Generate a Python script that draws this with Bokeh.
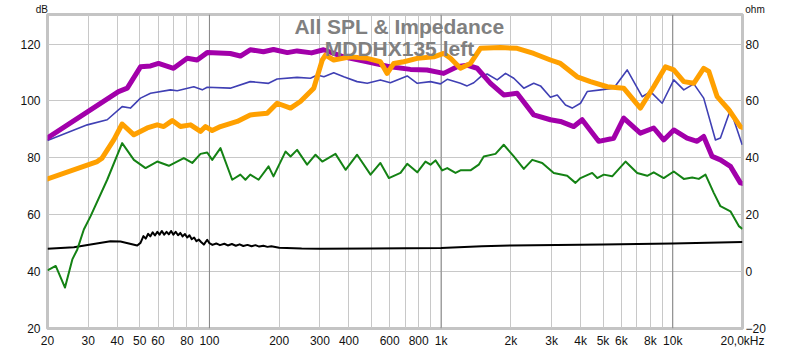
from bokeh.plotting import figure
from bokeh.models import FixedTicker, LinearAxis, Range1d, Label, Span, LogAxis
from bokeh.embed import file_html
from bokeh.resources import INLINE

# ---------------- data ----------------
purple_freq = [20, 40.5, 44.2, 50.4, 55.7, 60.3, 70, 80.2, 88.5, 97.8,
               123, 136, 150, 171, 189, 217, 239, 276, 311, 379,
               480, 604, 737, 870, 1026, 1172, 1295, 1431, 1634, 1864,
               2128, 2511, 2964, 3274, 3738, 4064, 4788, 5560, 6140, 7245,
               8275, 9140, 10100, 11530, 12736, 13600, 14790, 16060, 17740, 19580,
               20000]
purple_db = [87.0, 103.3, 104.5, 112.0, 112.3, 113.2, 111.5, 115.0, 114.4, 117.0,
             116.7, 115.8, 118.0, 117.3, 118.1, 117.0, 117.6, 116.9, 118.0, 115.5,
             113.8, 112.0, 111.1, 110.9, 109.7, 112.0, 112.6, 111.5, 106.2, 102.1,
             102.7, 95.1, 93.4, 92.8, 91.0, 93.4, 85.8, 86.9, 94.0, 88.7,
             90.5, 86.3, 89.8, 86.9, 85.8, 87.5, 80.5, 79.3, 77.0, 71.2,
             71.0]

blue_freq = [20, 29.7, 36.2, 42.0, 45.6, 50.4, 55.7, 67.9, 72.6, 85.6,
             93.1, 97.8, 123, 150, 180, 196, 239, 273, 292, 312,
             344, 380, 434, 480, 547, 604, 714, 789, 900, 994,
             1063, 1212, 1295, 1384, 1479, 1581, 1746, 1897, 2060, 2275,
             2511, 2686, 2964, 3172, 3444, 3680, 3997, 4273, 4876, 5560,
             6356, 7378, 8015, 8998, 10100, 11158, 12326, 13600, 15288, 16060,
             17740, 19936]
blue_db = [86.1, 91.6, 93.4, 98.0, 97.5, 101.0, 102.7, 103.9, 103.6, 105.0,
           103.9, 104.8, 104.5, 106.8, 106.2, 107.7, 108.3, 108.0, 109.1, 108.5,
           109.9, 108.5, 106.8, 106.2, 107.4, 106.4, 108.8, 106.2, 106.8, 106.0,
           107.6, 106.2, 105.3, 106.4, 108.5, 109.5, 107.4, 109.7, 108.0, 104.5,
           106.2, 105.3, 101.3, 102.1, 98.6, 97.5, 99.2, 103.3, 103.9, 104.5,
           110.9, 101.5, 103.3, 99.2, 107.4, 103.9, 106.0, 101.0, 86.3, 87.0,
           96.9, 84.6]

orange_freq = [20, 32.8, 34.4, 38.7, 42.0, 47.2, 53.9, 59.5, 63.5, 69.1,
               75.0, 82.9, 91.5, 96.2, 102.8, 111.6, 131.8, 150, 177.6, 196,
               224, 247, 273, 282, 307, 317, 344, 406, 480, 547,
               585, 625, 690, 789, 930, 1026, 1098, 1212, 1339, 1479,
               1804, 2128, 2511, 2964, 3274, 3868, 4414, 5212, 6140, 7245,
               8275, 9304, 10100, 11158, 12326, 13600, 14306, 15552, 17456, 19580,
               20000]
orange_db = [72.6, 78.7, 79.9, 86.4, 91.9, 88.1, 90.5, 91.6, 91.0, 93.1,
             91.0, 91.6, 89.3, 91.0, 89.6, 91.0, 92.8, 95.1, 95.7, 99.2,
             97.5, 99.8, 103.3, 104.5, 114.4, 116.1, 114.4, 115.5, 115.0, 113.8,
             109.7, 113.2, 113.8, 115.0, 115.5, 116.7, 115.0, 111.5, 113.2, 118.5,
             118.8, 118.5, 116.7, 114.4, 113.2, 108.5, 106.8, 105.0, 104.5, 97.5,
             105.0, 112.0, 110.9, 106.8, 106.2, 111.5, 110.4, 101.5, 96.9, 91.0,
             90.7]

green_freq = [20, 21.7, 23.8, 25.6, 26.9, 28.7, 30.7, 36.2, 42.0, 47.2,
              53.0, 59.5, 66.8, 77.5, 84.3, 91.5, 97.8, 102.8, 111.6, 125.4,
              136, 143, 150, 163, 180, 189, 213, 224, 239, 264,
              287, 307, 350, 387, 434, 496, 547, 595, 668, 714,
              789, 856, 900, 946, 1011, 1063, 1154, 1212, 1339, 1454,
              1528, 1717, 1864, 2060, 2275, 2474, 2732, 3064, 3502, 3802,
              3997, 4490, 4720, 5040, 5477, 6252, 7024, 7757, 8275, 9140,
              10100, 11158, 12132, 12952, 13843, 15032, 16060, 17740, 19278, 20000]
green_db = [40.4, 42.0, 34.4, 44.3, 47.8, 54.8, 59.5, 72.3, 85.2, 79.3,
            76.4, 78.7, 77.2, 79.9, 78.2, 81.4, 81.9, 79.3, 83.4, 72.3,
            74.1, 72.3, 74.1, 72.3, 77.0, 73.5, 82.2, 80.5, 82.8, 77.6,
            81.1, 78.7, 81.4, 75.8, 81.1, 74.1, 78.2, 72.9, 74.7, 77.9,
            74.9, 78.7, 77.6, 79.1, 75.6, 76.4, 74.7, 75.6, 75.6, 77.6,
            80.5, 81.4, 84.6, 80.5, 76.1, 79.3, 78.2, 74.7, 73.7, 71.2,
            72.9, 74.7, 72.9, 74.1, 73.5, 78.7, 74.7, 73.7, 74.9, 72.9,
            75.2, 72.6, 73.1, 72.6, 74.1, 67.7, 63.0, 61.2, 56.0, 55.0]

# impedance curve (ohm, right axis)
imp_freq = [20, 26, 30.7, 37.4, 41.3, 48.8, 50.4,
            51.9, 53.1, 54.4, 55.6, 56.9, 58.2, 59.6, 60.9, 62.3, 63.8,
            65.3, 66.8, 68.3, 69.9, 71.5, 73.2, 74.9, 76.6, 78.4, 80.2,
            82.0, 83.9, 85.9, 87.9, 89.9,
            92.0, 94.6, 97.8, 100,
            103, 107, 111, 116, 120, 125, 130, 135, 140, 146, 152, 158, 164, 171, 178, 185,
            200, 250, 300, 500, 1000, 1500, 2000, 5000, 10000, 20000]
imp_ohm = [8.0, 8.6, 9.5, 10.7, 10.6, 9.2, 10.1,
           12.5, 11.6, 13.3, 12.4, 13.8, 12.7, 14.0, 13.0, 14.3, 13.0,
           14.0, 13.1, 14.3, 13.0, 14.0, 12.8, 13.6, 12.4, 13.2, 12.0,
           12.8, 11.4, 12.0, 10.7, 11.3,
           10.4, 9.5, 11.2, 10.0,
           9.4, 9.9, 9.3, 9.8, 9.2, 9.7, 9.1, 9.6, 9.0, 9.4, 8.9, 9.3, 8.8, 9.1, 8.7, 8.9,
           8.4, 8.1, 8.0, 8.1, 8.3, 8.9, 9.2, 9.5, 9.9, 10.4]

x_ticks = [20, 30, 40, 50, 60, 80, 100, 200, 300, 400, 600, 800,
           1000, 2000, 3000, 4000, 5000, 6000, 8000, 10000, 20000]
x_tick_labels = ["20", "30", "40", "50", "60", "80", "100", "200", "300", "400", "600", "800",
                 "1k", "2k", "3k", "4k", "5k", "6k", "8k", "10k", "20,0kHz"]
x_grid = [20, 30, 40, 50, 60, 70, 80, 90, 100, 200, 300, 400, 500, 600, 700, 800, 900,
          1000, 2000, 3000, 4000, 5000, 6000, 7000, 8000, 9000, 10000, 20000]
decades = [100, 1000, 10000]
db_ticks = [20, 40, 60, 80, 100, 120]
ohm_ticks = [-20, 0, 20, 40, 60, 80]

title_lines = ["All SPL & Impedance", "MDDHX135 left"]
unit_left = "dB"
unit_right = "ohm"

# ---------------- figure ----------------
FONT = "Liberation Sans"
p = figure(width=800, height=350, x_axis_type="log",
           x_range=Range1d(20, 20000), y_range=Range1d(20, 130.4),
           output_backend="svg", toolbar_location=None,
           min_border_left=47, min_border_right=58,
           min_border_top=14, min_border_bottom=21)
p.background_fill_color = "white"
p.border_fill_color = "white"
p.outline_line_color = "#c4c4c4"
p.outline_line_width = 3

p.extra_y_ranges = {"ohm": Range1d(-20, 90.4)}

# axes
xa = p.xaxis[0]
xa.ticker = FixedTicker(ticks=x_ticks)
xa.major_label_overrides = {t: l for t, l in zip(x_ticks, x_tick_labels)}
ya = p.yaxis[0]
ya.ticker = FixedTicker(ticks=db_ticks)
ra = LinearAxis(y_range_name="ohm", ticker=FixedTicker(ticks=ohm_ticks))
p.add_layout(ra, "right")

# unit captions above the two value axes (at the frame corners)
NB = "\u00a0"
ua = LogAxis(ticker=FixedTicker(ticks=[20, 20000]))
ua.major_label_overrides = {20: unit_left + NB * 4, 20000: NB * 9 + unit_right}
p.add_layout(ua, "above")

for ax in (xa, ya, ra, ua):
    ax.axis_line_color = None
    ax.major_tick_line_color = None
    ax.minor_tick_line_color = None
    ax.major_tick_out = 0
    ax.major_tick_in = 0
    ax.minor_tick_out = 0
    ax.minor_tick_in = 0
    ax.major_label_text_font = FONT
    ax.major_label_text_font_size = "12px"
    ax.major_label_text_color = "#111111"
xa.major_label_standoff = 5
ya.major_label_standoff = 7
ra.major_label_standoff = 3
ua.major_label_standoff = 0
ua.major_label_text_font_size = "10px"

# grid
p.xgrid.ticker = FixedTicker(ticks=x_grid)
p.ygrid.ticker = FixedTicker(ticks=db_ticks)
for g in (p.xgrid[0], p.ygrid[0]):
    g.grid_line_color = "#c8c8c8"
    g.grid_line_width = 1
for d in decades:
    p.add_layout(Span(location=d, dimension="height", line_color="#858585",
                      line_width=1, level="underlay"))

# curves
p.line(imp_freq, imp_ohm, y_range_name="ohm", line_color="#000000", line_width=2,
       line_join="round")
p.line(green_freq, green_db, line_color="#148214", line_width=2, line_join="round")
p.line(blue_freq, blue_db, line_color="#4040B4", line_width=1.6, line_join="round")
p.line(purple_freq, purple_db, line_color="#A200AA", line_width=5, line_join="round",
       line_cap="round")
p.line(orange_freq, orange_db, line_color="#FFA000", line_width=5, line_join="round",
       line_cap="round")

# title inside the plot
p.add_layout(Label(x=661, y=126.2, text=title_lines[0], text_align="center",
                   text_baseline="middle", text_font=FONT, text_font_size="21px",
                   text_font_style="bold", text_color="#808080"))
p.add_layout(Label(x=661, y=118.5, text=title_lines[1], text_align="center",
                   text_baseline="middle", text_font=FONT, text_font_size="21px",
                   text_font_style="bold", text_color="#808080"))

open("out.html", "w").write(file_html(p, INLINE))
